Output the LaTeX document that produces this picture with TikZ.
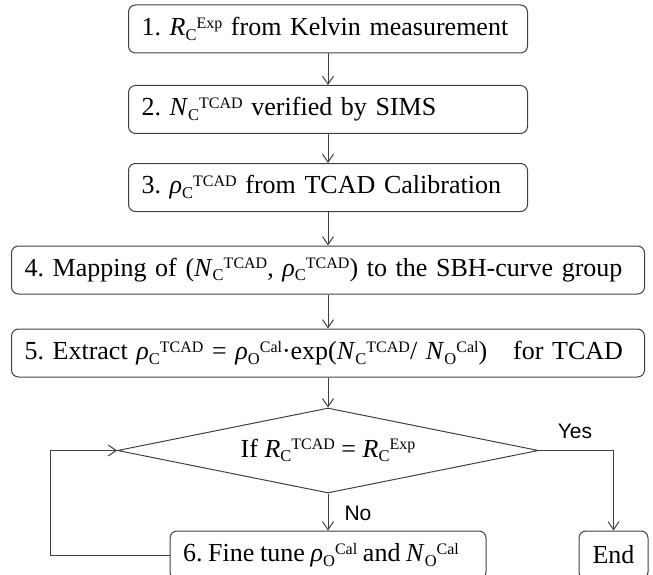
\documentclass[tikz,border=0pt]{standalone}
\usepackage{fontspec}
\setmainfont{Liberation Serif}
\newfontfamily\labelfont{Liberation Sans}
\usetikzlibrary{shapes.geometric,arrows.meta}
\definecolor{linegray}{HTML}{404040}
\frenchspacing
\newcommand{\vsym}[3]{\textit{#1}\raisebox{-4.5pt}{\fontsize{16.5}{16.5}\selectfont #2}\raisebox{7.5pt}{\fontsize{16}{16}\selectfont #3}}
\begin{document}
\begin{tikzpicture}[x=1pt,y=-1pt,
  line/.style={draw=linegray, line width=1pt},
  arr/.style={line, -{Straight Barb[length=8pt,width=11pt,line width=1pt]}},
  stepbox/.style={draw=linegray, line width=1pt, rounded corners=7pt, minimum height=48pt,
    inner xsep=13pt, inner ysep=0pt, font=\fontsize{26}{30}\selectfont, text=black, align=left},
  decbox/.style={draw=linegray, line width=1pt, diamond, aspect=4.95, minimum width=421pt,
    minimum height=85pt, inner sep=0pt, font=\fontsize{26}{30}\selectfont, text=black},
  lbl/.style={font=\labelfont\fontsize{21}{24}\selectfont, text=black}
]
\clip (0,0) rectangle (653,575);
\node[stepbox, text width=373pt] (s1) at (328,29) {1. \vsym{R}{C}{Exp} from Kelvin measurement};
\node[stepbox, text width=373pt] (s2) at (328,109.5) {2. \vsym{N}{C}{TCAD} verified by SIMS};
\node[stepbox, text width=373pt] (s3) at (328,187.5) {3. \vsym{ρ}{C}{TCAD} from TCAD Calibration};
\node[stepbox, text width=607pt] (s4) at (328,270) {4. Mapping of (\vsym{N}{C}{TCAD}, \vsym{ρ}{C}{TCAD}) to the SBH-curve group};
\node[stepbox, text width=607pt] (s5) at (328,353) {5. Extract \vsym{ρ}{C}{TCAD} = \vsym{ρ}{O}{Cal}·exp(\vsym{N}{C}{TCAD}/ \vsym{N}{O}{Cal})\quad for TCAD};
\node[decbox] (d) at (328,450.5) {If \vsym{R}{C}{TCAD} = \vsym{R}{C}{Exp}};
\node[stepbox, text width=290pt] (s6) at (328,555) {\mbox{\spaceskip=0.22em\relax 6. Fine tune \vsym{ρ}{O}{Cal} and \vsym{N}{O}{Cal}}};
\node[stepbox, align=center, minimum width=69pt, inner xsep=6pt] (end) at (613.5,555) {End};
\coordinate (lp) at (50,555);

\draw[arr] (s1) -- (s2);
\draw[arr] (s2) -- (s3);
\draw[arr] (s3) -- (s4);
\draw[arr] (s4) -- (s5);
\draw[arr] (s5) -- (d);
\draw[arr] (d.south) -- (s6.north);
\draw[arr] (d.east) -| (end.north);
\draw[arr] (s6.west) -- (lp) |- (d.west);
\node[lbl] (yes) at (575,431) {Yes};
\node[lbl] (no) at (358,513) {No};
\end{tikzpicture}
\end{document}
